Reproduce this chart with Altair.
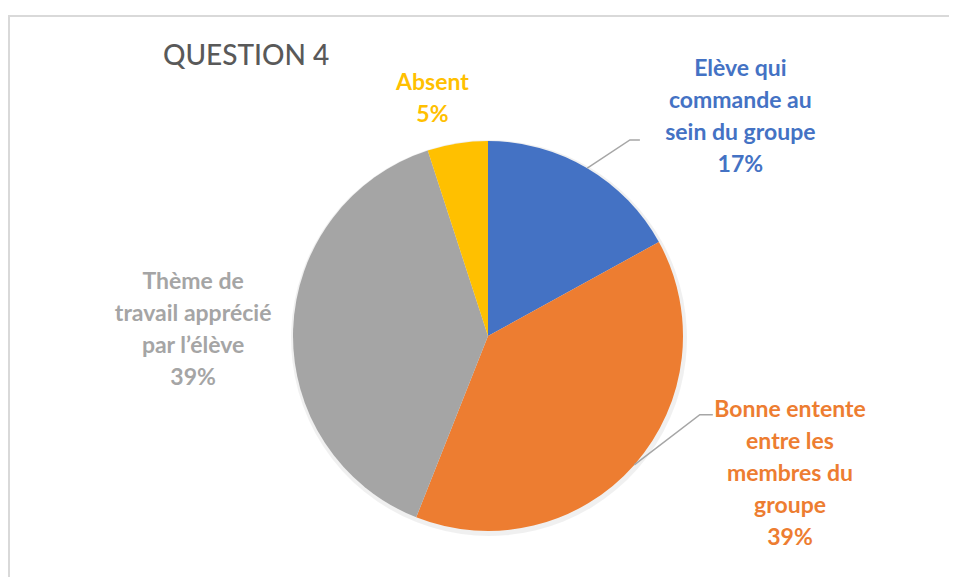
import math
import altair as alt
import pandas as pd

categories = ["Elève qui commande au sein du groupe",
              "Bonne entente entre les membres du groupe",
              "Thème de travail apprécié par l’élève",
              "Absent"]
label_lines = [["Elève qui", "commande au", "sein du groupe", "17%"],
               ["Bonne entente", "entre les", "membres du", "groupe", "39%"],
               ["Thème de", "travail apprécié", "par l’élève", "39%"],
               ["Absent", "5%"]]
values = [17, 39, 39, 5]
colors = ["#4472C4", "#ED7D31", "#A5A5A5", "#FFC000"]

W, H = 941, 569
CX, CY, R = 480, 328, 195
LH = 32

df = pd.DataFrame({"cat": categories, "value": values, "order": list(range(4))})
cum = 0
mids = []
for v in values:
    mids.append(cum + v / 2)
    cum += v
df["mid"] = mids

color_scale = alt.Scale(domain=categories, range=colors)

base = alt.Chart(df)

shadow = base.mark_arc(outerRadius=R + 3, color="#000000", opacity=0.06).encode(
    theta=alt.Theta("value:Q", stack=True),
    order=alt.Order("order:Q"),
    x=alt.value(CX + 1), y=alt.value(CY + 2),
)

pie = base.mark_arc(outerRadius=R).encode(
    theta=alt.Theta("value:Q", stack=True),
    color=alt.Color("cat:N", scale=color_scale, legend=None),
    order=alt.Order("order:Q"),
    x=alt.value(CX), y=alt.value(CY),
)

# label placement tuning (radius, dx, dy)
label_tune = {
    0: (260, 120, 5),
    1: (260, 107, -34),
    2: (260, -35, 2),
    3: (240, -18, 0),
}
theta_scale = alt.Scale(domain=[0, 100], range=[0, 2 * math.pi])

text_layers = []
for i, cat in enumerate(categories):
    r, dx, dy = label_tune[i]
    n = len(label_lines[i])
    sub = pd.DataFrame({"cat": [cat], "mid": [mids[i]], "label": [label_lines[i]]})
    t = alt.Chart(sub).mark_text(
        radius=r, dx=dx, dy=dy - (n - 1) / 2 * LH, font="Lato", fontSize=23, fontWeight="bold",
        lineHeight=LH, align="center", baseline="middle",
    ).encode(
        theta=alt.Theta("mid:Q", scale=theta_scale),
        text="label",
        color=alt.Color("cat:N", scale=color_scale, legend=None),
        x=alt.value(CX), y=alt.value(CY),
    )
    text_layers.append(t)

# leader lines: start on pie edge at mid-angle, elbow, short horizontal
leader_tune = {0: (242, 5.3, 10), 1: (226, -21.0, 13)}
rows = []
for i, (re, dang, hl) in leader_tune.items():
    a = mids[i] / 100 * 2 * math.pi
    x0 = CX + R * math.sin(a)
    y0 = CY - R * math.cos(a)
    a2 = a + math.radians(dang)
    x1 = CX + re * math.sin(a2)
    y1 = CY - re * math.cos(a2)
    rows += [
        {"cat": categories[i], "p": 0, "x": x0, "y": y0},
        {"cat": categories[i], "p": 1, "x": x1, "y": y1},
        {"cat": categories[i], "p": 2, "x": x1 + hl, "y": y1},
    ]
leaders = alt.Chart(pd.DataFrame(rows)).mark_line(color="#A6A6A6", strokeWidth=1.5).encode(
    x=alt.X("x:Q", scale=None), y=alt.Y("y:Q", scale=None),
    detail="cat:N", order="p:Q",
)

title = alt.Chart(pd.DataFrame({"t": ["QUESTION 4"]})).mark_text(
    font="Lato", fontSize=28, fontWeight=500, color="#595959", align="left", baseline="middle",
).encode(text="t", x=alt.value(155), y=alt.value(49))

frame_top = alt.Chart(pd.DataFrame({"a": [0]})).mark_rule(color="#D9D9D9", strokeWidth=2).encode(
    x=alt.value(0), x2=alt.value(W), y=alt.value(8)
)
frame_left = alt.Chart(pd.DataFrame({"a": [0]})).mark_rule(color="#D9D9D9", strokeWidth=2).encode(
    x=alt.value(1), y=alt.value(7), y2=alt.value(H)
)

chart = alt.layer(frame_top, frame_left, shadow, pie, leaders, title, *text_layers).properties(
    width=W, height=H, autosize=alt.AutoSizeParams(type="none"), padding=0,
    background="white",
).configure_view(stroke=None)

chart.save("out.html", embed_options={"renderer": "svg", "actions": False})
